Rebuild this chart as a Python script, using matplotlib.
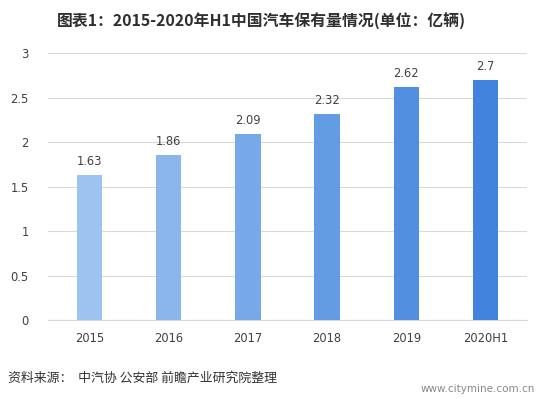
import matplotlib
matplotlib.use("Agg")
import matplotlib.pyplot as plt

plt.rcParams['font.family'] = ['Noto Sans CJK SC', 'DejaVu Sans']

categories = ["2015", "2016", "2017", "2018", "2019", "2020H1"]
values = [1.63, 1.86, 2.09, 2.32, 2.62, 2.7]
value_labels = ["1.63", "1.86", "2.09", "2.32", "2.62", "2.7"]
yticks = [0, 0.5, 1, 1.5, 2, 2.5, 3]
ytick_labels = ["0", "0.5", "1", "1.5", "2", "2.5", "3"]
bar_colors = ["#9DC3F0", "#8AB6EC", "#77A9E8", "#649CE4", "#528FE1", "#4183DD"]

TITLE = "图表1：2015-2020年H1中国汽车保有量情况(单位：亿辆)"
SOURCE = "资料来源：  中汽协 公安部 前瞻产业研究院整理"

fig = plt.figure(figsize=(5.38, 3.99), dpi=100)
ax = fig.add_axes([0.0892, 0.198, 0.8904, 0.668])

x = list(range(len(categories)))
ax.bar(x, values, width=0.32, color=bar_colors, zorder=3)

for xi, v, lab in zip(x, values, value_labels):
  ax.text(xi, v + 0.08, lab, ha="center", va="bottom", fontsize=8.3,
          color="#404040", family=["DejaVu Sans"])

ax.set_xlim(-0.525, len(categories) - 0.475)
ax.set_ylim(0, 3)
ax.set_yticks(yticks)
ax.set_yticklabels(ytick_labels)
ax.set_xticks(x)
ax.set_xticklabels(categories)
ax.grid(axis="y", color="#d9d9d9", linewidth=0.8, zorder=0)
for side in ["top", "right", "left"]:
  ax.spines[side].set_visible(False)
ax.spines["bottom"].set_color("#d9d9d9")
ax.tick_params(axis="both", length=0, labelsize=8.3, colors="#404040")
ax.tick_params(axis="y", pad=14)
ax.tick_params(axis="x", pad=9)
for lab in ax.get_xticklabels() + ax.get_yticklabels():
  lab.set_family(["DejaVu Sans"])

fig.text(0.486, 0.945, TITLE, ha="center", va="center", fontsize=11.4,
         fontweight="bold", color="#2e2e2e")
fig.text(0.015, 0.052, SOURCE, ha="left", va="center", fontsize=9.3,
         color="#333333")
fig.text(0.995, 0.012, "www.citymine.com.cn", ha="right", va="bottom",
         fontsize=7.5, color="#888888", family=["DejaVu Sans"])

fig.savefig("out.png", dpi=100)
